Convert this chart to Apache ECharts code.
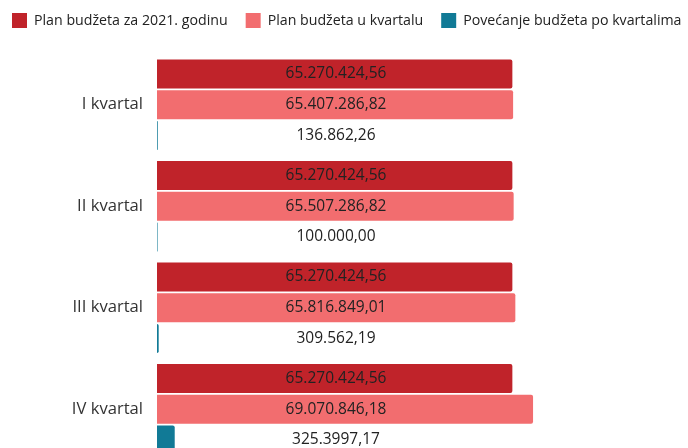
<!DOCTYPE html>
<html>
<head>
<meta charset="utf-8">
<script src="https://cdn.jsdelivr.net/npm/echarts@6/dist/echarts.min.js"></script>
<style>
  html, body { margin: 0; padding: 0; background: #fff; }
  #chart { width: 688px; height: 448px; }
</style>
</head>
<body>
<div id="chart"></div>
<script>
const quarters = ['I kvartal', 'II kvartal', 'III kvartal', 'IV kvartal'];
const seriesNames = ['Plan budžeta za 2021. godinu', 'Plan budžeta u kvartalu', 'Povećanje budžeta po kvartalima'];
const planYear = [65270424.56, 65270424.56, 65270424.56, 65270424.56];
const planQuarter = [65407286.82, 65507286.82, 65816849.01, 69070846.18];
const increase = [136862.26, 100000.00, 309562.19, 3253997.17];
// label text as printed in the source (IV has its own odd grouping)
const increaseLabels = ['136.862,26', '100.000,00', '309.562,19', '325.3997,17'];

const fmt = (v) => {
  const parts = v.toFixed(2).split('.');
  return parts[0].replace(/\B(?=(\d{3})+(?!\d))/g, '.') + ',' + parts[1];
};

const labelStyle = {
  show: true,
  position: [179, '50%'],
  align: 'center',
  verticalAlign: 'middle',
  color: '#222',
  fontSize: 15.5,
  fontFamily: 'Open Sans'
};

const chart = echarts.init(document.getElementById('chart'));
chart.setOption({
  animation: false,
  legend: {
    left: 12,
    top: 13,
    width: 676,
    padding: 0,
    itemWidth: 15,
    itemHeight: 15,
    itemGap: 18,
    icon: 'rect',
    textStyle: { fontSize: 14.2, color: '#222', fontFamily: 'Open Sans', padding: [0, 0, 0, 2] }
  },
  grid: { left: 157, right: 41, top: 54, height: 406, outerBoundsMode: 'none' },
  xAxis: {
    type: 'value',
    min: 0,
    max: 90000000,
    show: false
  },
  yAxis: {
    type: 'category',
    data: quarters,
    inverse: true,
    axisLine: { show: false },
    axisTick: { show: false },
    axisLabel: { fontSize: 16.6, color: '#333', margin: 14, fontFamily: 'Open Sans' }
  },
  series: [
    {
      name: seriesNames[0],
      type: 'bar',
      barWidth: 29,
      barGap: '6%',
      data: planYear,
      itemStyle: { color: '#c0232a', borderRadius: [0, 2, 2, 0] },
      label: Object.assign({}, labelStyle, { formatter: (p) => fmt(p.value) })
    },
    {
      name: seriesNames[1],
      type: 'bar',
      barWidth: 29,
      barGap: '6%',
      data: planQuarter,
      itemStyle: { color: '#f26d6f', borderRadius: [0, 2, 2, 0] },
      label: Object.assign({}, labelStyle, { formatter: (p) => fmt(p.value) })
    },
    {
      name: seriesNames[2],
      type: 'bar',
      barWidth: 29,
      barGap: '6%',
      data: increase,
      itemStyle: { color: '#117a96', borderRadius: [0, 2, 2, 0] },
      label: Object.assign({}, labelStyle, { formatter: (p) => increaseLabels[p.dataIndex] })
    }
  ]
});
</script>
</body>
</html>
